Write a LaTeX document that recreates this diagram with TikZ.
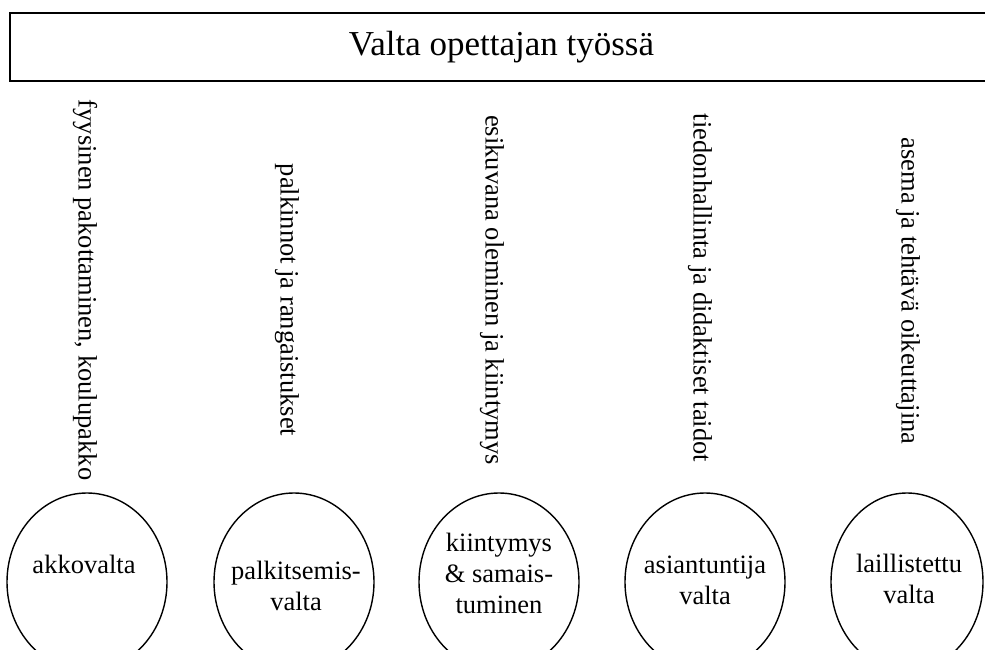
\documentclass[tikz,border=0pt]{standalone}
\usepackage{fontspec}
\setmainfont{Liberation Serif}
\usetikzlibrary{shapes.geometric}
\begin{document}
\begin{tikzpicture}[x=1pt,y=-1pt,
  frame/.style={draw, line width=2pt, minimum width=983pt, minimum height=68pt, inner sep=0pt, font=\fontsize{35}{42}\selectfont},
  bubble/.style={draw, ellipse, line width=1.4pt, minimum width=160pt, minimum height=178pt, inner sep=0pt},
  side/.style={rotate=-90, font=\fontsize{26.5}{31}\selectfont, inner sep=0pt},
  inner/.style={align=center, font=\fontsize{26.5}{31}\selectfont, inner sep=0pt, anchor=base}]
\useasboundingbox (0,0) rectangle (985,650);
\clip (0,0) rectangle (985,650);
\fill[white] (0,0) rectangle (985,650);
\node[frame] (title) at (501.5,47) {Valta opettajan työssä};
% rotated descriptions
\node[side] (d1) at (85,290) {fyysinen pakottaminen, koulupakko};
\node[side] (d2) at (287,300) {palkinnot ja rangaistukset};
\node[side] (d3) at (492,290) {esikuvana oleminen ja kiintymys};
\node[side] (d4) at (700,288) {tiedonhallinta ja didaktiset taidot};
\node[side] (d5) at (908,291) {asema ja tehtävä oikeuttajina};
% bubbles
\node[bubble] (b1) at (87,582) {};
\node[bubble] (b2) at (294,582) {};
\node[bubble] (b3) at (499,582) {};
\node[bubble] (b4) at (705,582) {};
\node[bubble, minimum width=152pt] (b5) at (907,582) {};
% bubble texts (anchor = baseline of the last line)
\node[inner] (t1) at (84,573) {akkovalta};
\node[inner] (t2) at (296,610) {palkitsemis-\\valta};
\node[inner] (t3) at (499,613) {kiintymys\\\& samais-\\tuminen};
\node[inner] (t4) at (705,604) {asiantuntija\\valta};
\node[inner] (t5) at (909,603) {laillistettu\\valta};
\end{tikzpicture}
\end{document}
